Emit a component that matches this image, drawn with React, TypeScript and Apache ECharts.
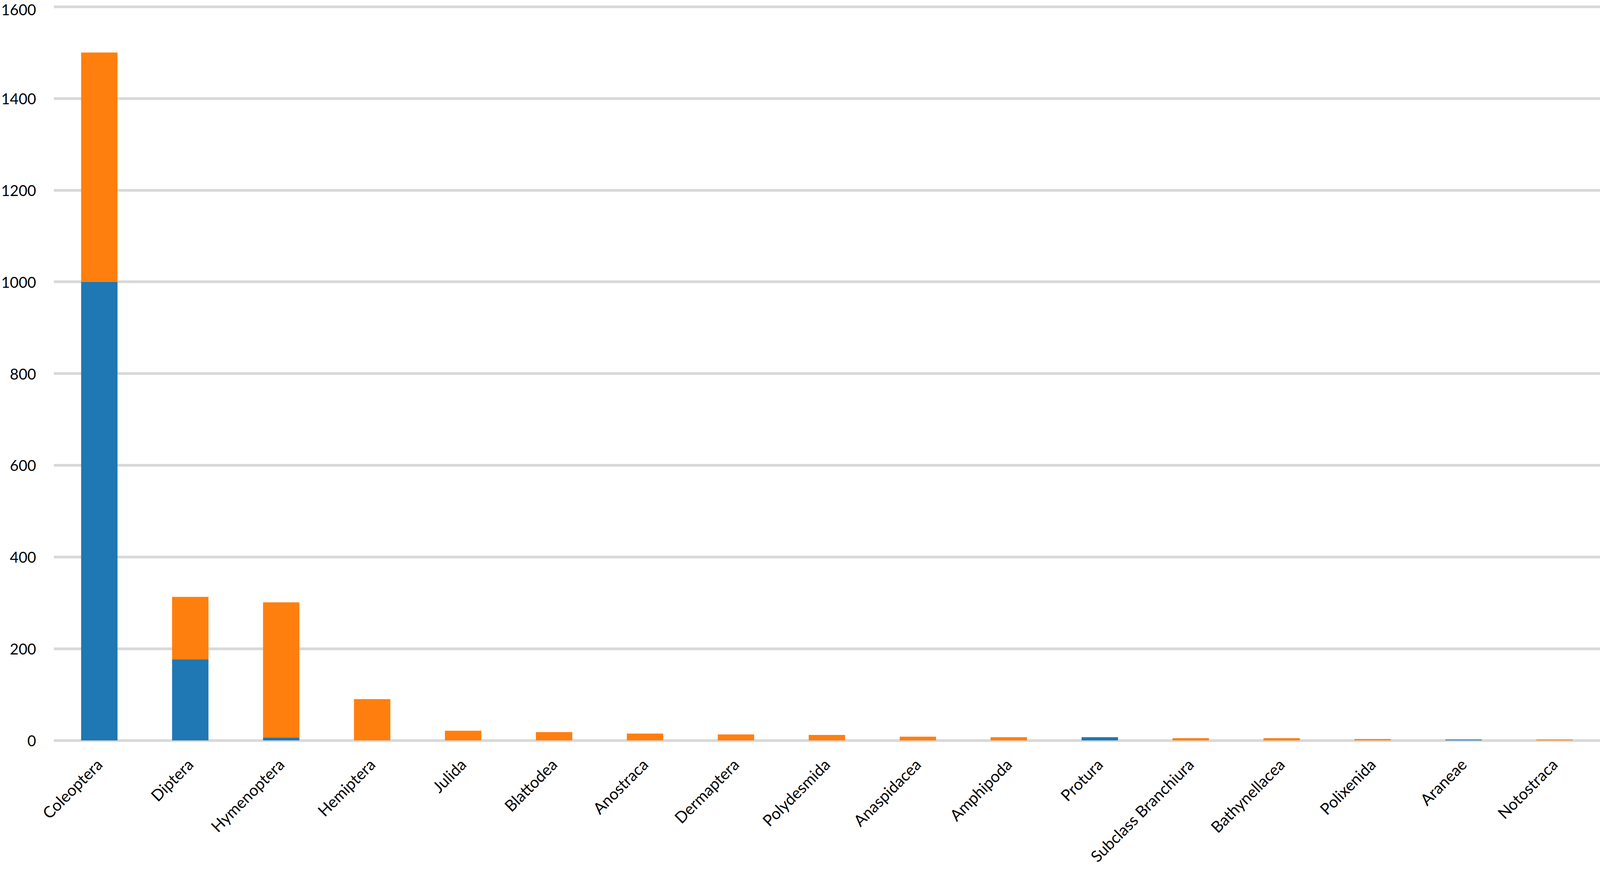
import React, { useEffect, useRef } from "react";
import * as echarts from "echarts";

const categories = [
  "Coleoptera",
  "Diptera",
  "Hymenoptera",
  "Hemiptera",
  "Julida",
  "Blattodea",
  "Anostraca",
  "Dermaptera",
  "Polydesmida",
  "Anaspidacea",
  "Amphipoda",
  "Protura",
  "Subclass Branchiura",
  "Bathynellacea",
  "Polixenida",
  "Araneae",
  "Notostraca",
];

const blueValues = [1000, 177, 6, 0, 0, 0, 0, 0, 0, 0, 0, 7, 0, 0, 0, 2, 0];
const orangeValues = [500, 136, 295, 90, 21, 18, 15, 13, 12, 8, 7, 0, 5, 5, 3, 0, 2];

const yTicks = { min: 0, max: 1600, interval: 200 };

const FONT = "Lato, 'Open Sans', sans-serif";

// layout measured on a 4246 x 2233 canvas, scaled to whatever the page gives us
const BASE_W = 4246;
const BASE_H = 2233;

const App: React.FC = () => {
  const chartRef = useRef<HTMLDivElement | null>(null);

  useEffect(() => {
    if (!chartRef.current) return;
    const el = chartRef.current;
    const chart = echarts.init(el, undefined, { renderer: "svg" });
    const w = el.clientWidth || BASE_W;
    const h = el.clientHeight || BASE_H;
    const kx = w / BASE_W;
    const ky = h / BASE_H;
    const k = Math.min(kx, ky);

    chart.setOption({
      animation: false,
      backgroundColor: "#fff",
      grid: { left: 141 * kx, right: 0, top: 17 * ky, bottom: 337 * ky, containLabel: false },
      xAxis: {
        type: "category",
        data: categories,
        axisLine: { show: false },
        axisTick: { show: false },
        axisLabel: {
          rotate: 45,
          interval: 0,
          margin: 56 * k,
          color: "#000",
          fontSize: 42 * k,
          fontFamily: FONT,
        },
      },
      yAxis: {
        type: "value",
        min: yTicks.min,
        max: yTicks.max,
        interval: yTicks.interval,
        axisLine: { show: false },
        axisTick: { show: false },
        axisLabel: {
          color: "#000",
          fontSize: 40 * k,
          fontFamily: FONT,
          margin: 47 * k,
          // the top label sits right at the page edge; nudge it down a hair
          formatter: (v: number) => (v === yTicks.max ? `{top|${v}}` : String(v)),
          rich: {
            top: {
              color: "#000",
              fontSize: 40 * k,
              fontFamily: FONT,
              padding: [14 * k, 0, 0, 0],
            },
          },
        },
        splitLine: { show: true, lineStyle: { color: "#d9d9d9", width: 7 * k } },
      },
      series: [
        {
          name: "blue",
          type: "bar",
          stack: "total",
          barWidth: "40%",
          data: blueValues,
          itemStyle: { color: "#1f77b4" },
        },
        {
          name: "orange",
          type: "bar",
          stack: "total",
          barWidth: "40%",
          data: orangeValues,
          itemStyle: { color: "#ff7f0e" },
        },
      ],
    });
    return () => {
      chart.dispose();
    };
  }, []);

  return (
    <div
      ref={chartRef}
      style={{ position: "fixed", left: 0, top: 0, width: "100vw", height: "100vh" }}
    />
  );
};

export default App;
